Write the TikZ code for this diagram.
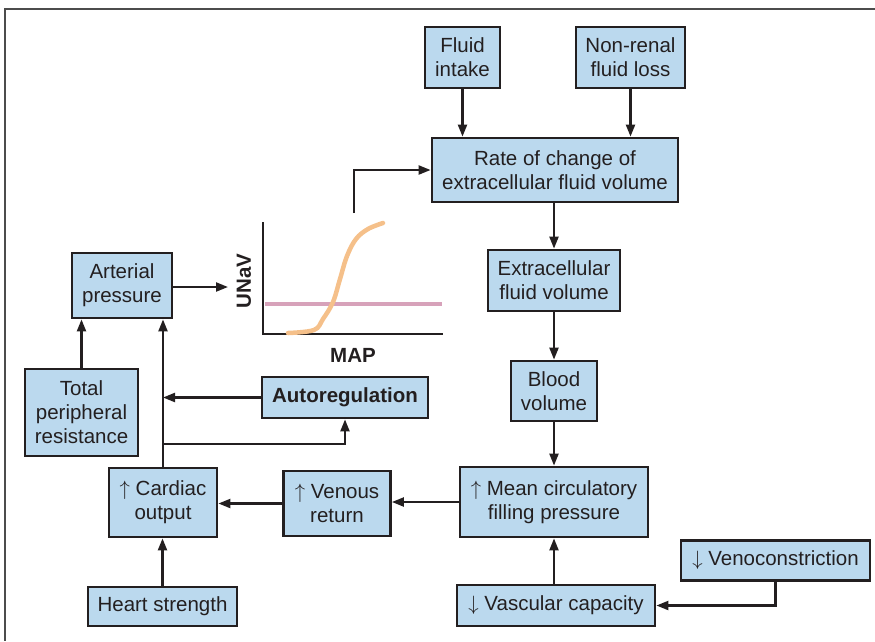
\documentclass[tikz,border=0pt]{standalone}
\usepackage{fontspec}
\setmainfont{Liberation Sans}
\usetikzlibrary{arrows.meta}
\definecolor{boxfill}{RGB}{187,217,238}
\definecolor{ink}{RGB}{35,31,32}
\definecolor{curveorange}{RGB}{245,192,138}
\definecolor{linepink}{RGB}{215,162,186}
\tikzset{
  box/.style={draw=ink, fill=boxfill, line width=2.8pt, align=center,
    text=ink, inner sep=2pt, font=\fontsize{20.5}{24}\selectfont},
  conn/.style={draw=ink, line width=2.2pt, -{Triangle[length=12pt,width=9pt]}},
  axis/.style={draw=ink, line width=2.3pt},
}
\begin{document}
\begin{tikzpicture}[x=1pt, y=-1pt]
\useasboundingbox (0,0) rectangle (875,641);
% frame
\draw[draw=black!70, line width=1.5pt] (875,9) -- (5,9) -- (5,641);

% boxes
\node[box, minimum width=75pt, minimum height=61pt] (fluid) at (462.5,57.5) {Fluid\\intake};
\node[box, minimum width=109pt, minimum height=61pt] (nonrenal) at (630.5,57.5) {Non-renal\\fluid loss};
\node[box, minimum width=246pt, minimum height=64pt] (rate) at (555,170) {Rate of change of\\extracellular fluid volume};
\node[box, minimum width=132pt, minimum height=61pt] (ecf) at (554,280.5) {Extracellular\\fluid volume};
\node[box, minimum width=86pt, minimum height=60pt] (blood) at (554,391) {Blood\\volume};
\node[box, minimum width=188pt, minimum height=70pt] (mcfp) at (554,502) {$\uparrow$ Mean circulatory\\filling pressure};
\node[box, minimum width=198pt, minimum height=41pt] (vasc) at (556,605.5) {$\downarrow$ Vascular capacity};
\node[box, minimum width=189pt, minimum height=40pt] (veno) at (775.5,560.5) {$\downarrow$ Venoconstriction};
\node[box, minimum width=149pt, minimum height=39pt] (heart) at (162.5,606.5) {Heart strength};
\node[box, minimum width=107pt, minimum height=65pt] (venous) at (337,503.5) {$\uparrow$ Venous\\return};
\node[box, minimum width=108pt, minimum height=69pt] (cardiac) at (163,502.5) {$\uparrow$ Cardiac\\output};
\node[box, minimum width=166pt, minimum height=41pt, font=\fontsize{20.5}{24}\selectfont\bfseries] (auto) at (345,397.5) {Autoregulation};
\node[box, minimum width=113pt, minimum height=87pt] (tpr) at (81.5,412.5) {Total\\peripheral\\resistance};
\node[box, minimum width=100pt, minimum height=65pt] (arterial) at (122,285.5) {Arterial\\pressure};

% pressure natriuresis curve
\coordinate (origin) at (263,334);
\draw[axis] (263,222) -- (origin) -- (443,334);
\draw[draw=linepink, line width=4pt] (265,304) -- (442,304);
\draw[draw=curveorange, line width=4.5pt, line cap=round]
  plot[smooth, tension=0.6] coordinates {(288,333) (314,330) (323,319) (333,302) (340,279) (347,256) (356,239) (368,229) (383,223)};
\node[text=ink, font=\fontsize{20.5}{24}\selectfont\bfseries, rotate=90] (unav) at (244,281) {UNaV};
\node[text=ink, font=\fontsize{20.5}{24}\selectfont\bfseries] (map) at (353,355) {MAP};
\coordinate (curveout) at (354,213);
\coordinate (graphin) at (228,287);

% connectors
\draw[conn] (fluid.south) -- (fluid.south |- rate.north);
\draw[conn] (nonrenal.south) -- (nonrenal.south |- rate.north);
\draw[conn] (curveout) |- (rate.west);
\draw[conn] (rate.south -| ecf.north) -- (ecf.north);
\draw[conn] (ecf) -- (blood);
\draw[conn] (blood) -- (mcfp);
\draw[conn] (mcfp.west) -- (venous.east |- mcfp.west);
\draw[conn] (venous.west) -- (cardiac.east |- venous.west);
\draw[conn] (heart.north) -- (heart.north |- cardiac.south);
\draw[conn] (vasc.north -| mcfp.south) -- (mcfp.south);
\draw[conn] (veno.south) |- (vasc.east);
\draw[conn] (tpr.north) -- (tpr.north |- arterial.south);
\draw[conn] (cardiac.north) -- (cardiac.north |- arterial.south);
\coordinate (cojoin) at (163,444);
\draw[conn] (auto.west) -- (163,397.5);
\draw[conn] (cojoin) -| (auto.south);
\draw[conn] (arterial.east |- graphin) -- (graphin);
\end{tikzpicture}
\end{document}
